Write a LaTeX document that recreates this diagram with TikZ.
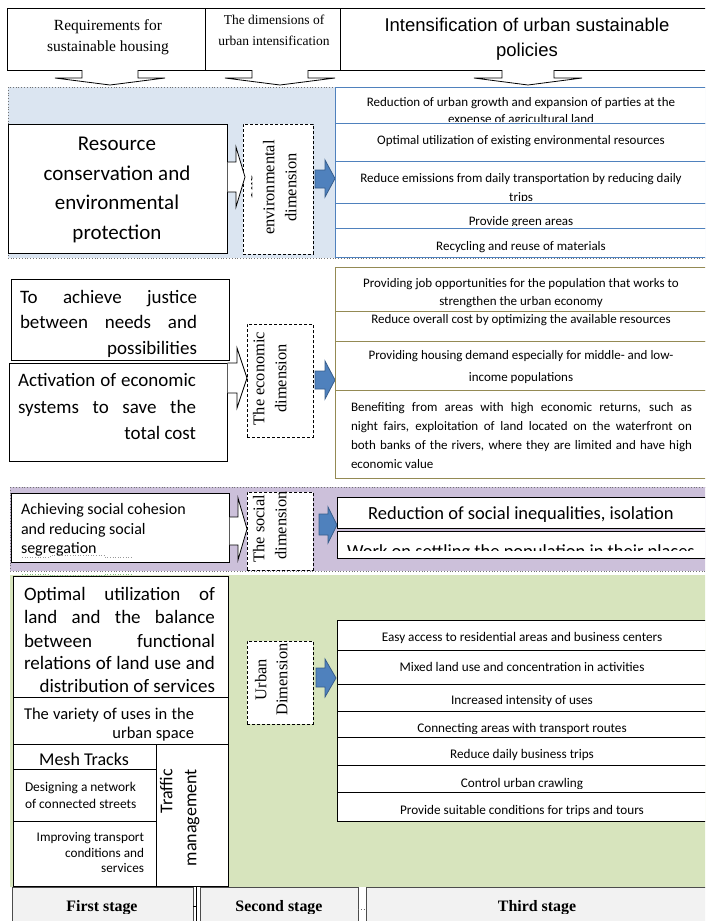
\documentclass[tikz,border=0pt]{standalone}
\usepackage{fontspec}
\setmainfont{Liberation Serif}
\newfontfamily\calfont{Carlito}
\newfontfamily\arialfont{Liberation Sans}
\newcommand\fsz[1]{\fontsize{#1}{#1}\selectfont}
\newcommand\jline[2]{\makebox[#1][s]{#2}}

\definecolor{envbg}{HTML}{DBE5F1}
\definecolor{socbg}{HTML}{CCC0DA}
\definecolor{urbbg}{HTML}{D7E4BD}
\definecolor{arrowblue}{HTML}{4F81BD}
\definecolor{arrowedge}{HTML}{385D8A}
\definecolor{envedge}{HTML}{4F81BD}
\definecolor{ecoedge}{HTML}{948A54}
\definecolor{stagebg}{HTML}{F2F2F2}

\tikzset{
  box/.style={draw=black, line width=0.9pt, fill=white, inner sep=0, anchor=north west},
  dashbox/.style={draw=black, dashed, dash pattern=on 3pt off 2pt, line width=0.8pt, fill=white, inner sep=0, anchor=north west},
  envcell/.style={draw=envedge, line width=1pt, fill=white, inner sep=0, anchor=north west},
  ecocell/.style={draw=ecoedge, line width=1pt, fill=white, inner sep=0, anchor=north west},
  blkcell/.style={draw=black, line width=1pt, fill=white, inner sep=0, anchor=north west},
  stagebox/.style={draw=black!70, line width=1pt, fill=stagebg, inner sep=0, anchor=north west},
  hollow/.style={draw=black, line width=0.8pt, fill=white, line join=miter},
  bluearrow/.style={draw=arrowedge, line width=0.8pt, fill=arrowblue, line join=miter},
  region/.style={draw=black!55, dotted, line width=0.8pt},
  txt/.style={inner sep=0, outer sep=0, anchor=mid},
  cal/.style={txt, font=\calfont\fsz{#1}, yshift=-0.2*#1},
  ser/.style={txt, font=\fsz{#1}, yshift=-0.2*#1},
  serb/.style={txt, font=\bfseries\fsz{#1}, yshift=-0.2*#1},
  ari/.style={txt, font=\arialfont\fsz{#1}, yshift=-0.2*#1},
  vser/.style={txt, rotate=90, font=\fsz{#1}, xshift=0.15*#1},
  vcal/.style={txt, rotate=90, font=\calfont\fsz{#1}, xshift=0.15*#1},
}

\begin{document}
\begin{tikzpicture}[x=1pt,y=-1pt]
\useasboundingbox (0,0) rectangle (705,921);
\clip (0,0) rectangle (705,921);

% ---------- column headings ----------
\node[box, minimum width=198, minimum height=62] (hreq) at (7,8) {};
\node[box, minimum width=135, minimum height=62] (hdim) at (205,8) {};
\node[box, minimum width=370, minimum height=62] (hpol) at (340,8) {};
\node[ser=15.5] at (108,25) {Requirements for};
\node[ser=15.5] at (108,46) {sustainable housing};
\node[ser=13.5] at (274,20) {The dimensions of};
\node[ser=13.5] at (274,41) {urban intensification};
\node[ari=18.5] at (527,26) {Intensification of urban sustainable};
\node[ari=18.5] at (527,51) {policies};

\draw[hollow] (82,70) -- (82,78) -- (55,78) -- (110,85) -- (165,78) -- (138,78) -- (138,70);
\draw[hollow] (252,70) -- (252,78) -- (225,78) -- (280,85) -- (335,78) -- (308,78) -- (308,70);
\draw[hollow] (502,70) -- (502,78) -- (474,78) -- (528,85) -- (582,78) -- (554,78) -- (554,70);

% ---------- environmental dimension ----------
\draw[region, fill=envbg] (8,87) rectangle (712,258);
\node[box, minimum width=219, minimum height=129] (res) at (8,124) {};
\node[cal=21] at (117,144) {Resource};
\node[cal=21] at (117,174) {conservation and};
\node[cal=21] at (117,203) {environmental};
\node[cal=21] at (117,233) {protection};

\node[dashbox, minimum width=70, minimum height=130] (envdim) at (243,124) {};
\begin{scope}
  \clip (251.5,125) rectangle (312,253);
  \node[vser=16.4] at (250,190) {The};
\end{scope}
\node[vser=16.4] at (272,190) {environmental};
\node[vser=16.4] at (294,190) {dimension};
\draw[hollow] (227.5,162) -- (236,162) -- (236,147) -- (245,177) -- (236,207) -- (236,192) -- (227.5,192);
\draw[bluearrow] (315,170) -- (325,170) -- (325,160) -- (335,178.5) -- (325,197) -- (325,188) -- (315,188) -- cycle;

\node[envcell, minimum width=377, minimum height=36] (env1) at (335,87) {};
\node[envcell, minimum width=377, minimum height=38] (env2) at (335,123) {};
\node[envcell, minimum width=377, minimum height=42] (env3) at (335,161) {};
\node[envcell, minimum width=377, minimum height=25] (env4) at (335,203) {};
\node[envcell, minimum width=377, minimum height=29] (env5) at (335,228) {};
\begin{scope}
  \clip (335,88) rectangle (705,121.5);
  \node[cal=13] at (521,102) {Reduction of urban growth and expansion of parties at the};
  \node[cal=13] at (521,119) {expense of agricultural land};
\end{scope}
\node[cal=13] at (521,140) {Optimal utilization of existing environmental resources};
\begin{scope}
  \clip (335,162) rectangle (705,200.5);
  \node[cal=13] at (521,178) {Reduce emissions from daily transportation by reducing daily};
  \node[cal=13] at (521,197) {trips};
\end{scope}
\begin{scope}
  \clip (335,204) rectangle (705,225.5);
  \node[cal=13] at (521,221) {Provide green areas};
\end{scope}
\node[cal=13] at (521,246) {Recycling and reuse of materials};

% ---------- economic dimension ----------
\node[box, minimum width=218, minimum height=81] (just) at (11,279) {};
\node[cal=19, anchor=mid west] at (20,297) {\jline{177pt}{To achieve justice}};
\node[cal=19, anchor=mid west] at (20,322) {\jline{177pt}{between needs and}};
\node[cal=19, anchor=mid east] at (197,348) {possibilities};
\node[box, minimum width=218, minimum height=98] (activ) at (9,363) {};
\node[cal=19, anchor=mid west] at (18,380) {\jline{178pt}{Activation of economic}};
\node[cal=19, anchor=mid west] at (18,407) {\jline{178pt}{systems to save the}};
\node[cal=19, anchor=mid east] at (196,433) {total cost};

\node[dashbox, minimum width=66, minimum height=113] (ecodim) at (247,324) {};
\node[vser=16.4] at (262,381) {The economic};
\node[vser=16.4] at (284,381) {dimension};
\draw[hollow] (227.5,363) -- (237,363) -- (237,348) -- (247,378) -- (237,408) -- (237,393) -- (227.5,393);
\draw[bluearrow] (315,371) -- (325,371) -- (325,361) -- (335,380) -- (325,399) -- (325,389) -- (315,389) -- cycle;

\node[ecocell, minimum width=377, minimum height=44] (eco1) at (335,267) {};
\node[ecocell, minimum width=377, minimum height=30] (eco2) at (335,311) {};
\node[ecocell, minimum width=377, minimum height=49] (eco3) at (335,341) {};
\node[ecocell, minimum width=377, minimum height=88] (eco4) at (335,390) {};
\begin{scope}
  \clip (335,268) rectangle (705,309);
  \node[cal=13] at (521,283) {Providing job opportunities for the population that works to};
  \node[cal=13] at (521,301) {strengthen the urban economy};
\end{scope}
\node[cal=13] at (521,319) {Reduce overall cost by optimizing the available resources};
\node[cal=13] at (521,355) {Providing housing demand especially for middle- and low-};
\node[cal=13] at (521,377) {income populations};
\node[cal=13, anchor=mid west] at (351,407) {\jline{341pt}{Benefiting from areas with high economic returns, such as}};
\node[cal=13, anchor=mid west] at (351,426) {\jline{341pt}{night fairs, exploitation of land located on the waterfront on}};
\node[cal=13, anchor=mid west] at (351,445) {\jline{341pt}{both banks of the rivers, where they are limited and have high}};
\node[cal=13, anchor=mid west] at (351,464) {economic value};

% ---------- urban dimension (background first) ----------
\fill[urbbg] (10,575) rectangle (712,887);

% ---------- social dimension ----------
\draw[region, fill=socbg] (10,487) rectangle (712,571);
\node[box, minimum width=218, minimum height=69] (cohes) at (11,493) {};
\node[cal=16, anchor=mid west] at (21,509) {Achieving social cohesion};
\node[cal=16, anchor=mid west] at (21,529) {and reducing social};
\node[cal=16, anchor=mid west] at (21,548) {segregation};
\draw[black!40, dotted, line width=0.6pt] (22,557) -- (50,557) -- (50,555.5) -- (105,555.5) -- (105,557) -- (133,557);
\draw[green!50!black!50, dotted, line width=0.6pt] (22,574) -- (50,574) -- (50,575.5) -- (105,575.5) -- (105,574) -- (133,574);

\node[dashbox, minimum width=66, minimum height=78] (socdim) at (247,492) {};
\node[vser=16.4] at (262,531) {The social};
\node[vser=16.4] at (284,528) {dimension};
\draw[hollow] (229.5,517) -- (238,517) -- (238,498) -- (247,529) -- (238,560) -- (238,545) -- (229.5,545);
\draw[bluearrow] (319,514) -- (328,514) -- (328,507) -- (337,525) -- (328,543) -- (328,535) -- (319,535) -- cycle;

\node[blkcell, minimum width=375, minimum height=31] (soc1) at (337,497) {};
\node[blkcell, minimum width=375, minimum height=27] (soc2) at (337,531) {};
\begin{scope}
  \clip (337,498) rectangle (705,524);
  \node[cal=18.5] at (521,513) {Reduction of social inequalities, isolation};
\end{scope}
\begin{scope}
  \clip (337,532) rectangle (705,550.5);
  \node[cal=18.5] at (521,551) {Work on settling the population in their places};
\end{scope}

% ---------- urban dimension ----------
\node[box, minimum width=215, minimum height=121] (optim) at (13,576) {};
\node[cal=19, anchor=mid west] at (24,594) {\jline{191pt}{Optimal utilization of}};
\node[cal=19, anchor=mid west] at (24,617) {\jline{191pt}{land and the balance}};
\node[cal=19, anchor=mid west] at (24,641) {\jline{191pt}{between functional}};
\node[cal=19, anchor=mid west] at (24,663) {\jline{191pt}{relations of land use and}};
\node[cal=19, anchor=mid east] at (215,686) {distribution of services};

\node[box, minimum width=215, minimum height=47] (variety) at (13,697) {};
\node[cal=16.5, anchor=mid west] at (24,714) {\jline{170pt}{The variety of uses in the}};
\node[cal=16.5, anchor=mid east] at (194,733) {urban space};

\node[box, minimum width=143, minimum height=142] (mesh) at (13,744) {};
\node[cal=18] at (84,760) {Mesh Tracks};
\node[box, minimum width=143, minimum height=52] (design) at (13,769) {};
\node[cal=13.4, anchor=mid west] at (25,787) {Designing a network};
\node[cal=13.4, anchor=mid west] at (25,804) {of connected streets};
\node[box, minimum width=143, minimum height=65] (improv) at (13,821) {};
\node[cal=13.2, anchor=mid east] at (144,837) {Improving transport};
\node[cal=13.2, anchor=mid east] at (144,853) {conditions and};
\node[cal=13.2, anchor=mid east] at (144,868) {services};
\node[box, minimum width=72, minimum height=142] (traffic) at (156,744) {};
\node[vcal=18, anchor=mid east] at (170,772) {Traffic};
\node[vcal=18, anchor=mid east] at (194,772) {management};

\node[dashbox, minimum width=66, minimum height=83] (urbdim) at (247,641) {};
\node[vser=16.4] at (264,682) {Urban};
\node[vser=16.4] at (285,682) {Dimension};
\draw[bluearrow] (316,668) -- (325,668) -- (325,659) -- (336,678) -- (325,697) -- (325,687) -- (316,687) -- cycle;

\node[blkcell, minimum width=375, minimum height=30] (urb1) at (337,620) {};
\node[blkcell, minimum width=375, minimum height=34] (urb2) at (337,650) {};
\node[blkcell, minimum width=375, minimum height=27] (urb3) at (337,684) {};
\node[blkcell, minimum width=375, minimum height=26] (urb4) at (337,711) {};
\node[blkcell, minimum width=375, minimum height=28] (urb5) at (337,737) {};
\node[blkcell, minimum width=375, minimum height=27] (urb6) at (337,765) {};
\node[blkcell, minimum width=375, minimum height=29] (urb7) at (337,792) {};
\node[cal=13.2] at (522,637) {Easy access to residential areas and business centers};
\node[cal=13.2] at (522,667) {Mixed land use and concentration in activities};
\node[cal=13.2] at (522,700) {Increased intensity of uses};
\begin{scope}
  \clip (337,712) rectangle (705,733.5);
  \node[cal=13.2] at (522,728) {Connecting areas with transport routes};
\end{scope}
\node[cal=13.2] at (522,754) {Reduce daily business trips};
\begin{scope}
  \clip (337,766) rectangle (705,788.5);
  \node[cal=13.2] at (522,783) {Control urban crawling};
\end{scope}
\begin{scope}
  \clip (337,793) rectangle (705,816);
  \node[cal=13.2] at (522,810) {Provide suitable conditions for trips and tours};
\end{scope}

% ---------- stages ----------
\node[stagebox, minimum width=181, minimum height=45] (st1) at (12,887) {};
\node[stagebox, minimum width=158, minimum height=45] (st2) at (200,887) {};
\node[stagebox, minimum width=346, minimum height=45] (st3) at (366,887) {};
\begin{scope}
  \clip (0,888) rectangle (705,913);
  \node[serb=15.9] at (102,906) {First stage};
  \node[serb=15.9] at (279,906) {Second stage};
  \node[serb=15.9] at (537,906) {Third stage};
\end{scope}
\draw[black, line width=0.8pt] (196.5,887) -- (196.5,921);
\draw[black, line width=0.6pt] (193,906) -- (196.5,906);
\draw[black!60, dotted, line width=0.8pt] (358,909) -- (366,909);
\end{tikzpicture}
\end{document}
